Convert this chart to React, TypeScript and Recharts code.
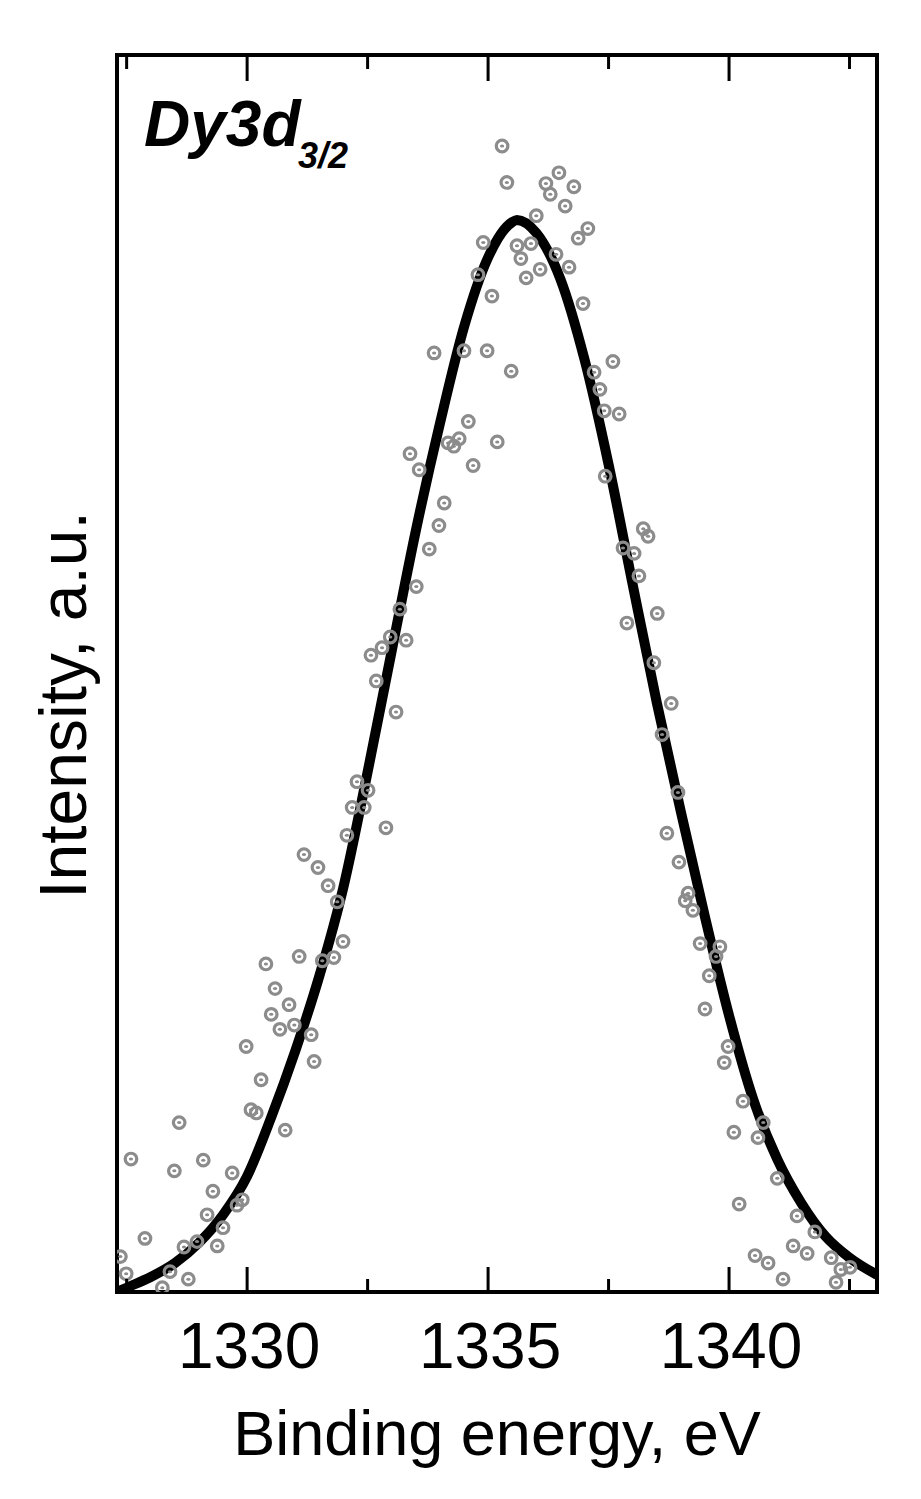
import React from "react";
import { ComposedChart, XAxis, YAxis, Line, Scatter, Label } from "recharts";

// Binding energy (eV) of measured points
const pointEnergy = [
  1327.37, 1327.49, 1327.59, 1327.88, 1328.24, 1328.40, 1328.49, 1328.59, 1328.69, 1328.78,
  1328.96, 1329.09, 1329.17, 1329.29, 1329.38, 1329.50, 1329.69, 1329.79, 1329.90, 1329.98,
  1330.08, 1330.19, 1330.29, 1330.39, 1330.50, 1330.58, 1330.68, 1330.79, 1330.87, 1330.98,
  1331.08, 1331.18, 1331.33, 1331.39, 1331.47, 1331.56, 1331.68, 1331.80, 1331.87, 1331.99,
  1332.07, 1332.18, 1332.28, 1332.43, 1332.51, 1332.57, 1332.68, 1332.80, 1332.88, 1332.97,
  1333.09, 1333.17, 1333.30, 1333.38, 1333.51, 1333.57, 1333.78, 1333.88, 1333.98, 1334.09,
  1334.17, 1334.29, 1334.40, 1334.50, 1334.59, 1334.69, 1334.79, 1334.90, 1334.98, 1335.08,
  1335.19, 1335.29, 1335.39, 1335.48, 1335.60, 1335.68, 1335.79, 1335.89, 1336.00, 1336.08,
  1336.20, 1336.29, 1336.41, 1336.47, 1336.60, 1336.68, 1336.78, 1336.87, 1336.97, 1337.07,
  1337.20, 1337.32, 1337.41, 1337.43, 1337.59, 1337.72, 1337.80, 1337.88, 1338.03, 1338.13,
  1338.22, 1338.32, 1338.44, 1338.51, 1338.61, 1338.71, 1338.80, 1338.94, 1338.96, 1339.09,
  1339.15, 1339.25, 1339.40, 1339.50, 1339.59, 1339.73, 1339.81, 1339.90, 1339.98, 1340.10,
  1340.21, 1340.29, 1340.54, 1340.60, 1340.71, 1340.81, 1341.00, 1341.12, 1341.33, 1341.41,
  1341.62, 1341.78, 1342.12, 1342.22, 1342.32, 1342.51,
];
// Intensity (a.u.) of measured points
const pointIntensity = [
  0.033, 0.017, 0.124, 0.050, 0.004, 0.019, 0.113, 0.158, 0.042, 0.012,
  0.047, 0.123, 0.072, 0.094, 0.043, 0.060, 0.111, 0.081, 0.086, 0.229,
  0.170, 0.167, 0.198, 0.306, 0.259, 0.283, 0.245, 0.151, 0.268, 0.249,
  0.313, 0.408, 0.240, 0.215, 0.396, 0.309, 0.379, 0.312, 0.364, 0.327,
  0.426, 0.452, 0.476, 0.452, 0.468, 0.594, 0.570, 0.601, 0.433, 0.611,
  0.541, 0.637, 0.608, 0.782, 0.658, 0.767, 0.693, 0.876, 0.715, 0.736,
  0.792, 0.789, 0.796, 0.878, 0.812, 0.771, 0.949, 0.979, 0.878, 0.929,
  0.793, 1.069, 1.035, 0.859, 0.976, 0.964, 0.946, 0.978, 1.004, 0.954,
  1.034, 1.024, 0.968, 1.044, 1.013, 0.956, 1.031, 0.983, 0.922, 0.992,
  0.858, 0.842, 0.822, 0.761, 0.868, 0.819, 0.694, 0.624, 0.689, 0.668,
  0.712, 0.705, 0.587, 0.633, 0.520, 0.428, 0.549, 0.466, 0.401, 0.365,
  0.372, 0.356, 0.325, 0.264, 0.295, 0.313, 0.322, 0.214, 0.229, 0.149,
  0.082, 0.178, 0.034, 0.144, 0.158, 0.027, 0.106, 0.012, 0.043, 0.071,
  0.036, 0.056, 0.032, 0.009, 0.021, 0.023,
];

// Fit curve
const fitEnergy = [
  1327.3, 1327.5, 1328.0, 1328.5, 1329.0, 1329.5, 1330.0, 1330.5, 1331.0, 1331.5,
  1332.0, 1332.5, 1333.0, 1333.5, 1334.0, 1334.5, 1335.0, 1335.5, 1335.6, 1336.0,
  1336.5, 1337.0, 1337.5, 1338.0, 1338.5, 1339.0, 1339.5, 1340.0, 1340.5, 1341.0,
  1341.5, 1342.0, 1342.5, 1343.07,
];
const fitIntensity = [
  0.000, 0.004, 0.014, 0.027, 0.046, 0.072, 0.108, 0.163, 0.225, 0.295,
  0.378, 0.485, 0.598, 0.710, 0.810, 0.900, 0.965, 0.998, 1.000, 0.988,
  0.945, 0.870, 0.772, 0.660, 0.550, 0.448, 0.350, 0.258, 0.180, 0.124,
  0.083, 0.052, 0.032, 0.016,
];

const xTicks = [1327.5, 1330, 1332.5, 1335, 1337.5, 1340, 1342.5];
const xLabels = [1330, 1335, 1340];

const points = pointEnergy.map((x, i) => ({ x, y: pointIntensity[i] }));
const fit = fitEnergy.map((x, i) => ({ x, y: fitIntensity[i] }));

const FONT = "'Liberation Sans', Arial, sans-serif";
const GRAY = "#8c8c8c";

const BottomTick = (props: any) => {
  const { x, y, payload } = props;
  const major = xLabels.includes(payload.value);
  return (
    <g>
      <line x1={x} x2={x} y1={y} y2={y - (major ? 25 : 13)} stroke="#000" strokeWidth={3} />
      {major && (
        <text x={x + 2} y={y + 76} textAnchor="middle" fontFamily={FONT} fontSize={64} fill="#000">
          {payload.value}
        </text>
      )}
    </g>
  );
};

const TopTick = (props: any) => {
  const { x, y, payload } = props;
  const major = xLabels.includes(payload.value);
  return <line x1={x} x2={x} y1={y} y2={y + (major ? 26 : 14)} stroke="#000" strokeWidth={3} />;
};

const Ring = (props: any) => {
  const { cx, cy } = props;
  if (cx == null || cy == null) return null;
  return (
    <g>
      <circle cx={cx} cy={cy} r={5.8} fill="none" stroke={GRAY} strokeWidth={3.2} />
      <ellipse cx={cx} cy={cy} rx={2.1} ry={1.5} fill={GRAY} />
    </g>
  );
};

const XTitle = () => (
  <text x={497} y={1455} textAnchor="middle" fontFamily={FONT} fontSize={63} fill="#000">
    Binding energy, eV
  </text>
);

const YTitle = () => (
  <text
    x={0}
    y={0}
    transform="translate(86,705) rotate(-90)"
    textAnchor="middle"
    fontFamily={FONT}
    fontSize={66}
    fill="#000"
  >
    Intensity, a.u.
  </text>
);

const PanelTitle = () => (
  <g>
    <text x={144} y={146} fontFamily={FONT} fontWeight="bold" fontStyle="italic" fontSize={64} fill="#000">
      Dy3d
    </text>
    <text x={298} y={168} fontFamily={FONT} fontWeight="bold" fontStyle="italic" fontSize={36} fill="#000">
      3/2
    </text>
  </g>
);

const axisLineStyle = { stroke: "#000", strokeWidth: 4, strokeLinecap: "square" as const };

export default function App() {
  return (
    <div style={{ position: "absolute", left: 0, top: 0, width: 921, height: 1499, background: "#fff" }}>
      <ComposedChart
        width={921}
        height={1499}
        margin={{ top: 54, right: 43, bottom: 206, left: 116 }}
      >
        <XAxis
          xAxisId="b"
          type="number"
          dataKey="x"
          domain={[1327.3, 1343.07]}
          allowDataOverflow
          ticks={xTicks}
          interval={0}
          tickSize={0}
          tickMargin={0}
          tickLine={false}
          height={1}
          axisLine={axisLineStyle}
          tick={<BottomTick />}
          orientation="bottom"
        >
          <Label content={<XTitle />} />
        </XAxis>
        <XAxis
          xAxisId="t"
          type="number"
          dataKey="x"
          domain={[1327.3, 1343.07]}
          allowDataOverflow
          ticks={xTicks}
          interval={0}
          tickSize={0}
          tickMargin={0}
          tickLine={false}
          height={1}
          axisLine={axisLineStyle}
          tick={<TopTick />}
          orientation="top"
        >
          <Label content={<PanelTitle />} />
        </XAxis>
        <YAxis
          yAxisId="l"
          type="number"
          domain={[0, 1.1539]}
          allowDataOverflow
          width={1}
          tick={false}
          tickLine={false}
          axisLine={axisLineStyle}
        >
          <Label content={<YTitle />} />
        </YAxis>
        <YAxis
          yAxisId="r"
          orientation="right"
          type="number"
          domain={[0, 1.1539]}
          allowDataOverflow
          width={1}
          tick={false}
          tickLine={false}
          axisLine={axisLineStyle}
        />
        <Scatter
          xAxisId="b"
          yAxisId="l"
          data={points}
          dataKey="y"
          shape={<Ring />}
          isAnimationActive={false}
        />
        <Line
          xAxisId="b"
          yAxisId="l"
          data={fit}
          dataKey="y"
          type="monotone"
          stroke="#000"
          strokeWidth={10}
          dot={false}
          activeDot={false}
          isAnimationActive={false}
        />
      </ComposedChart>
    </div>
  );
}
